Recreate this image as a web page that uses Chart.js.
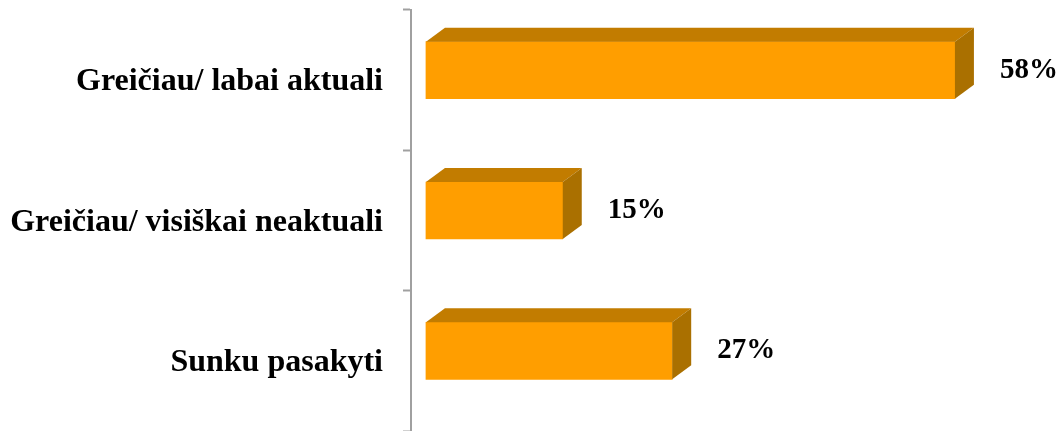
<!DOCTYPE html>
<html>
<head>
<meta charset="utf-8">
<script src="https://cdn.jsdelivr.net/npm/chart.js@4.4.1/dist/chart.umd.min.js"></script>
<style>
  html, body { margin: 0; padding: 0; background: #ffffff; }
  #wrap { width: 1057px; height: 431px; position: relative; }
</style>
</head>
<body>
<div id="wrap"><canvas id="aktualumasChart"></canvas></div>
<script>
const categories = ["Greičiau/ labai aktuali", "Greičiau/ visiškai neaktuali", "Sunku pasakyti"];
const values = [58, 15, 27];

document.addEventListener("DOMContentLoaded", function () {
  const depthX = 19;
  const depthY = 14;
  const lift = -10; // bars sit a bit above the category centre, as in the 3D original

  const bars3d = {
    id: "bars3d",
    beforeDatasetsDraw(chart) {
      chart.ctx.save();
      chart.ctx.translate(0, lift);
    },
    afterDatasetsDraw(chart) {
      const ctx = chart.ctx;
      const meta = chart.getDatasetMeta(0);
      meta.data.forEach(function (bar, i) {
        const x0 = bar.base;
        const x1 = bar.x;
        const top = bar.y - bar.height / 2;
        const bottom = bar.y + bar.height / 2;

        // top face
        ctx.fillStyle = "#C27C00";
        ctx.beginPath();
        ctx.moveTo(x0, top);
        ctx.lineTo(x0 + depthX, top - depthY);
        ctx.lineTo(x1 + depthX, top - depthY);
        ctx.lineTo(x1, top);
        ctx.closePath();
        ctx.fill();

        // side face
        ctx.fillStyle = "#AA7000";
        ctx.beginPath();
        ctx.moveTo(x1, top);
        ctx.lineTo(x1 + depthX, top - depthY);
        ctx.lineTo(x1 + depthX, bottom - depthY);
        ctx.lineTo(x1, bottom);
        ctx.closePath();
        ctx.fill();

        // value label
        ctx.fillStyle = "#000000";
        ctx.font = "bold 29px 'Liberation Serif', 'Times New Roman', serif";
        ctx.textAlign = "left";
        ctx.textBaseline = "middle";
        ctx.fillText(values[i] + "%", x1 + depthX + 26, bar.y);
      });
      ctx.restore();
    },
  };

  const config = {
    type: "bar",
    data: {
      labels: categories,
      datasets: [
        {
          data: values,
          backgroundColor: "#FF9E00",
          borderWidth: 0,
          barThickness: 57,
        },
      ],
    },
    options: {
      indexAxis: "y",
      responsive: true,
      maintainAspectRatio: false,
      animation: false,
      layout: {
        padding: { left: 0, right: 20, top: 10, bottom: 0 },
      },
      plugins: {
        legend: { display: false },
        tooltip: { enabled: false },
      },
      scales: {
        x: {
          display: false,
          min: -1.64,
          max: 67,
        },
        y: {
          afterFit: function (scale) {
            scale.width = 411;
            scale.paddingTop = 0;
            scale.paddingBottom = 0;
          },
          grid: {
            drawOnChartArea: false,
            tickLength: 8,
            tickWidth: 2,
            color: "#A0A0A0",
          },
          border: {
            display: true,
            color: "#A0A0A0",
            width: 2,
          },
          ticks: {
            padding: 20,
            labelOffset: 2,
            color: "#000000",
            font: {
              family: "'Liberation Serif', 'Times New Roman', serif",
              size: 32,
              weight: "bold",
            },
          },
        },
      },
    },
    plugins: [bars3d],
  };

  new Chart(document.getElementById("aktualumasChart"), config);
});
</script>
</body>
</html>
